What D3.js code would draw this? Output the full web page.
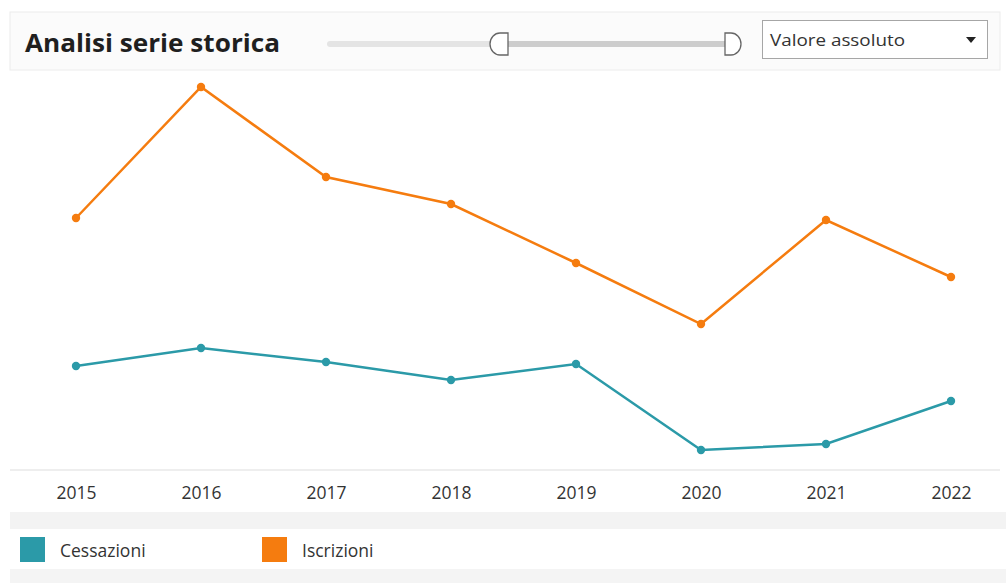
<!DOCTYPE html>
<html><head><meta charset="utf-8">
<script src="https://cdn.jsdelivr.net/npm/d3@7/dist/d3.min.js"></script>
<style>html,body{margin:0;padding:0;background:#fff;}svg{display:block;}</style>
</head><body><svg id="c" width="1006" height="583"></svg>
<script>
const years = ["2015","2016","2017","2018","2019","2020","2021","2022"];
const iscrizioni = [1484,1746,1566,1512,1394,1272,1480,1366];
const cessazioni = [1188,1224,1196,1160,1192,1020,1032,1118];
const seriesNames = ["Cessazioni","Iscrizioni"];
const seriesColors = ["#2b9aa8","#f57c0f"];
const title = "Analisi serie storica";
const dropdownLabel = "Valore assoluto";

const svg = d3.select("#c");
const font = "'Open Sans', 'Noto Sans', sans-serif";

// background bands
svg.append("rect").attr("x",0).attr("y",0).attr("width",1006).attr("height",583).attr("fill","#fff");
svg.append("rect").attr("x",10).attr("y",12).attr("width",990).attr("height",58).attr("fill","#fbfbfb").attr("stroke","#ececec");
svg.append("rect").attr("x",10).attr("y",71).attr("width",990).attr("height",398).attr("fill","#fff");
svg.append("line").attr("x1",10).attr("x2",1000).attr("y1",470).attr("y2",470).attr("stroke","#eeeeee").attr("stroke-width",2);
svg.append("rect").attr("x",10).attr("y",512).attr("width",996).attr("height",17).attr("fill","#f3f3f3");
svg.append("rect").attr("x",10).attr("y",569).attr("width",996).attr("height",14).attr("fill","#f4f4f4");

// title
svg.append("text").attr("x",25).attr("y",52).text(title)
  .attr("font-family",font).attr("font-weight",700).attr("font-size",25).attr("fill","#1f1f1f")
  .attr("textLength",255).attr("lengthAdjust","spacingAndGlyphs");

// slider
svg.append("rect").attr("x",327).attr("y",41).attr("width",170).attr("height",6).attr("rx",3).attr("fill","#e4e4e4");
svg.append("rect").attr("x",500).attr("y",41).attr("width",228).attr("height",6).attr("fill","#cdcdcd");
svg.append("path").attr("d","M508,33 L500,33 A10,11 0 0 0 500,55 L508,55 Z")
  .attr("fill","#fff").attr("stroke","#666").attr("stroke-width",1.3);
svg.append("path").attr("d","M725,33 L731,33 A10,11 0 0 1 731,55 L725,55 Z")
  .attr("fill","#fff").attr("stroke","#666").attr("stroke-width",1.3);

// dropdown
svg.append("rect").attr("x",762.5).attr("y",20.5).attr("width",225).attr("height",38).attr("fill","#fff").attr("stroke","#a6a6a6");
svg.append("text").attr("x",770).attr("y",46).text(dropdownLabel)
  .attr("font-family",font).attr("font-size",17).attr("fill","#333")
  .attr("textLength",135).attr("lengthAdjust","spacingAndGlyphs");
svg.append("path").attr("d","M966,37 L976,37 L971,43 Z").attr("fill","#222");

// scales
const x = d3.scalePoint().domain(years).range([76,951]);
const y = d3.scaleLinear().domain([1000,1750]).range([460,85]);

// axis
const xAxis = svg.append("g").attr("transform","translate(0,470)")
  .call(d3.axisBottom(x).tickSize(0).tickPadding(17));
xAxis.select(".domain").remove();
xAxis.selectAll("text").attr("font-family",font).attr("font-size",17.5).attr("fill","#333");

const line = d3.line().x((d,i)=>x(years[i])).y(d=>y(d));
const data = [cessazioni, iscrizioni];
data.forEach((vals,k)=>{
  svg.append("path").datum(vals).attr("d",line).attr("fill","none")
    .attr("stroke",seriesColors[k]).attr("stroke-width",2.5);
  svg.append("g").selectAll("circle").data(vals).join("circle")
    .attr("cx",(d,i)=>x(years[i])).attr("cy",d=>y(d)).attr("r",4.2).attr("fill",seriesColors[k]);
});

// legend
const legX = [20,262];
seriesNames.forEach((n,k)=>{
  svg.append("rect").attr("x",legX[k]).attr("y",537).attr("width",25).attr("height",25).attr("fill",seriesColors[k]);
  svg.append("text").attr("x",legX[k]+40).attr("y",557).text(n)
    .attr("font-family",font).attr("font-size",17.5).attr("fill","#333");
});
</script></body></html>
